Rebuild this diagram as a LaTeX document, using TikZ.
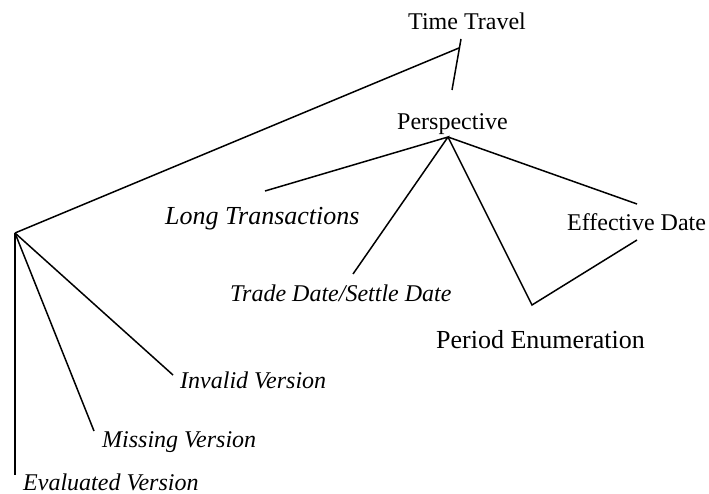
\documentclass[tikz,border=0pt]{standalone}
\usepackage{fontspec}
\setmainfont{Liberation Serif}
\begin{document}
\begin{tikzpicture}[x=1pt,y=-1pt,
  lbl/.style={inner sep=0pt,anchor=base west,font=\fontsize{24}{28}\selectfont},
  ilbl/.style={lbl,font=\fontsize{24}{28}\selectfont\itshape},
  biglbl/.style={lbl,font=\fontsize{26}{30}\selectfont},
  bigilbl/.style={lbl,font=\fontsize{26}{30}\selectfont\itshape},
  conn/.style={line width=1.5pt,line join=miter}]
\useasboundingbox (0,0) rectangle (709,494);
% labels
\node[lbl] (tt) at (408,30) {Time Travel};
\node[lbl] (persp) at (397,130) {Perspective};
\node[bigilbl] (long) at (165,225) {Long Transactions};
\node[ilbl] (trade) at (230,301) {Trade Date/Settle Date};
\node[lbl] (eff) at (567,231) {Effective Date};
\node[biglbl] (period) at (436,348) {Period Enumeration};
\node[ilbl] (inv) at (180,388) {Invalid Version};
\node[ilbl] (miss) at (102,447) {Missing Version};
\node[ilbl] (evalv) at (23,490) {Evaluated Version};
% connector points
\coordinate (tttop) at (461,39);
\coordinate (ttj) at (459,48);
\coordinate (ttbot) at (452,90);
\coordinate (pj) at (448,137);
\coordinate (lj) at (15,233);
\coordinate (longend) at (265,191);
\coordinate (tradeend) at (353,274);
\coordinate (effend) at (637,204);
\coordinate (vbot) at (532,305);
\coordinate (vend) at (637,240);
\coordinate (evalend) at (15,475);
\coordinate (missend) at (94,431);
\coordinate (invend) at (173,375);
% connectors
\draw[conn] (tttop) -- (ttbot);
\draw[conn] (ttj) -- (lj);
\draw[conn] (longend) -- (pj) -- (tradeend);
\draw[conn] (pj) -- (effend);
\draw[conn] (pj) -- (vbot) -- (vend);
\draw[conn] (lj) -- (evalend);
\draw[conn] (lj) -- (missend);
\draw[conn] (lj) -- (invend);
\end{tikzpicture}
\end{document}
